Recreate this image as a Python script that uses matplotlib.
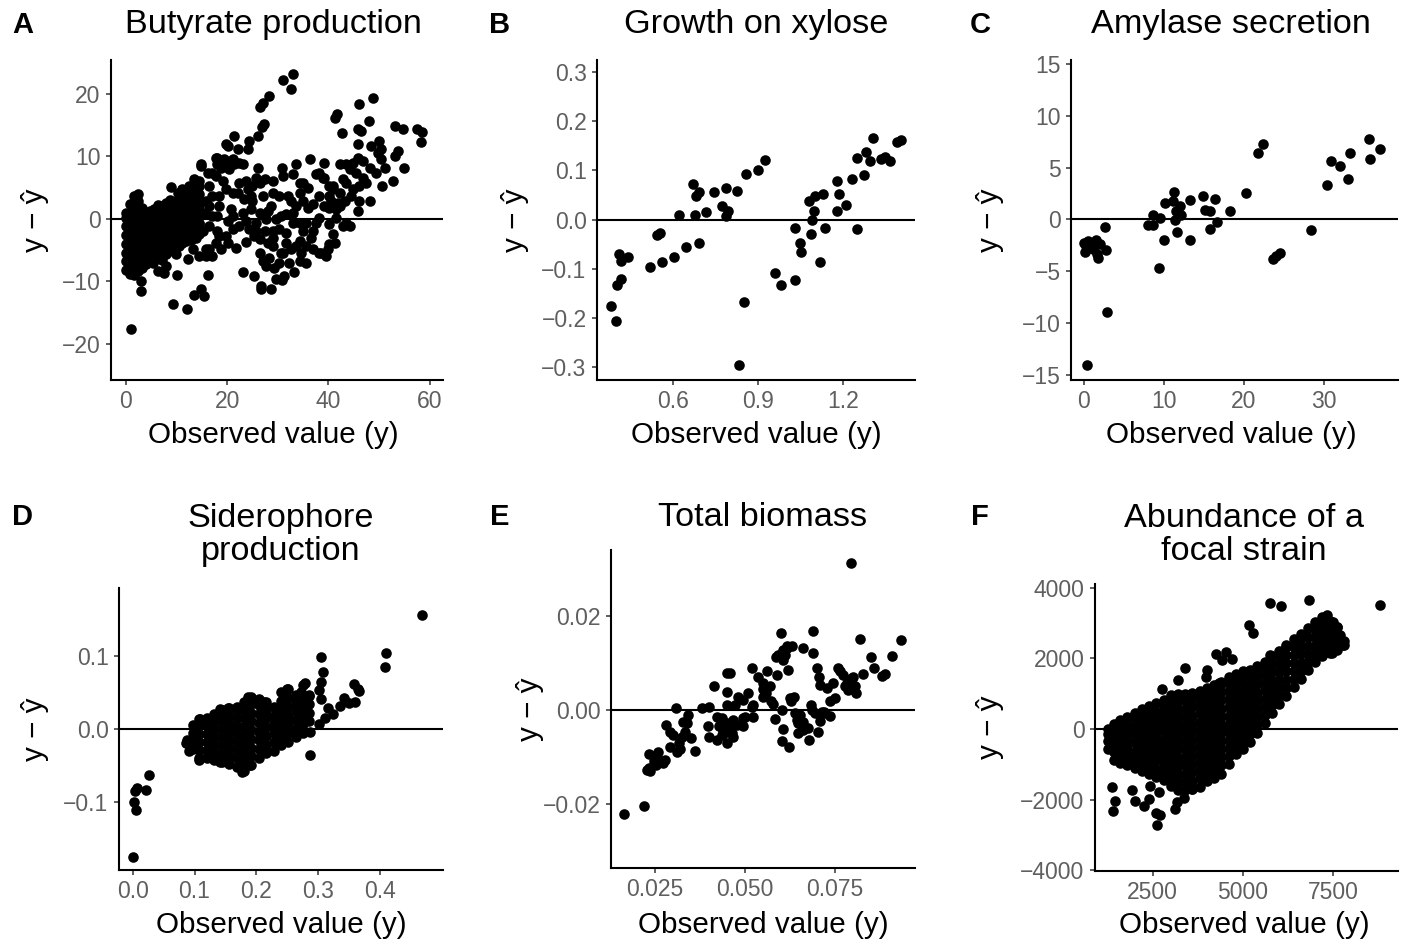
import matplotlib
matplotlib.use("Agg")
import matplotlib.pyplot as plt

plt.rcParams['font.family'] = ['Liberation Sans', 'DejaVu Sans']

W, H = 1403, 944

# ---- A: butyrate production ----
a_cols_x = [0.0, 0.8, 1.6, 2.4, 3.2, 4.0, 4.8, 5.6, 6.4, 7.2, 8.0, 8.8, 9.6,
            10.4, 11.2, 12.0, 12.8, 13.6, 14.4]
a_cols_y = [
    [-8.2, -6.8, -5.4, -4.0, -2.6, -1.2, 0.2, 1.0],
    [-8.8, -7.4, -6.0, -4.6, -3.2, -1.8, -0.4, 1.0, 2.4],
    [-9.0, -7.6, -6.2, -4.8, -3.4, -2.0, -0.6, 0.8, 2.2, 3.6],
    [-8.4, -7.0, -5.6, -4.2, -2.8, -1.4, 0.0, 1.4, 2.8, 4.0],
    [-7.8, -6.4, -5.0, -3.6, -2.2, -0.8, 0.6, 1.8],
    [-7.2, -5.8, -4.4, -3.0, -1.6, -0.2, 1.0],
    [-6.8, -5.4, -4.0, -2.6, -1.2, 0.2, 1.2],
    [-6.4, -5.0, -3.6, -2.2, -0.8, 0.6, 1.6],
    [-6.0, -4.6, -3.2, -1.8, -0.4, 1.0, 2.2],
    [-6.6, -5.0, -3.4, -2.0, -0.6, 0.8, 2.0],
    [-5.6, -4.2, -2.8, -1.4, 0.0, 1.4, 2.6],
    [-5.0, -3.6, -2.2, -0.8, 0.6, 2.0, 3.0],
    [-4.6, -3.0, -1.6, -0.2, 1.2, 2.6],
    [-4.2, -2.6, -1.2, 0.2, 1.6, 3.0, 4.2],
    [-3.8, -2.2, -0.8, 0.6, 2.0, 3.4],
    [-3.2, -1.8, -0.4, 1.0, 2.4, 3.8],
    [-3.4, -1.6, 0.0, 1.6, 3.2, 4.8],
    [-2.8, -1.2, 0.4, 2.0, 3.6, 5.4],
    [-2.4, -0.8, 0.8, 2.4, 4.0, 6.0],
]
a_pts = [
    (1.1, -17.6), (3.1, -10.0), (3.1, -11.6), (10.2, -9.0), (9.4, -13.7), (12.0, -14.5),
    (13.5, -12.2), (14.8, -11.2), (15.4, -12.4), (16.3, -9.0), (12.2, -6.4), (13.2, -4.9),
    (9.9, -5.7), (7.9, -7.5), (6.3, -8.3), (7.6, -8.6), (8.9, 5.1),
    (33.0, 23.2), (31.0, 22.2), (32.6, 20.7), (28.3, 19.7), (27.0, 18.5), (26.4, 17.9),
    (27.2, 15.2), (26.8, 14.7), (26.2, 13.3), (24.4, 12.4), (24.1, 11.2), (21.4, 13.3),
    (19.8, 12.0), (20.1, 11.6), (22.1, 11.2), (23.1, 8.7), (21.4, 8.7), (19.9, 8.3),
    (20.8, 9.2), (17.8, 9.7), (18.8, 8.1), (14.9, 8.5), (17.1, 7.3),
    (23.1, -8.5), (25.4, -9.1), (26.7, -10.7), (26.7, -11.3), (28.7, -11.3), (29.7, -9.7),
    (31.3, -9.1), (30.9, -9.8), (33.3, -8.5), (32.2, -7.0), (29.3, -7.8), (27.7, -7.5),
    (27.0, -6.8), (26.4, -5.4), (28.3, -6.2), (29.0, -4.4), (30.6, -5.4), (30.3, -7.0),
    (34.3, -6.8), (35.6, -7.0), (34.6, -5.4), (33.6, -4.4), (31.6, -3.8), (31.6, -2.2),
    (30.3, -1.7), (29.0, -2.0), (27.4, -2.0), (25.7, -2.0), (23.7, -3.7), (25.4, -2.8),
    (28.0, -3.8), (33.0, -0.6), (34.3, -0.6), (34.9, -2.0), (36.6, -3.0), (36.9, -2.0),
    (38.6, -5.5), (39.6, -6.0), (39.9, -4.9), (41.2, -3.8), (40.9, -2.5), (40.2, -0.9),
    (42.8, -1.2), (44.3, -1.2), (43.5, -0.6), (41.5, 0.2),
    (41.5, 1.5), (40.2, 1.8), (41.9, 2.6), (43.2, 2.8), (44.5, 3.6), (45.8, 1.2),
    (46.1, 2.8), (48.1, 2.8), (44.8, 4.7), (46.1, 5.2), (47.5, 5.7), (46.8, 6.5),
    (45.5, 7.3), (44.2, 7.9), (42.2, 8.7), (43.5, 8.7), (44.8, 8.9), (45.8, 9.7),
    (46.8, 9.2), (48.1, 8.1), (49.4, 7.3), (51.1, 8.1), (50.4, 9.5), (49.8, 10.5),
    (48.4, 11.6), (50.4, 11.1), (49.9, 12.5), (45.8, 11.9), (45.8, 14.4), (46.5, 14.0),
    (48.0, 15.6), (42.7, 13.8), (41.2, 16.1), (41.7, 16.7), (46.1, 18.3), (48.7, 19.3),
    (53.1, 14.9), (54.7, 14.4), (57.4, 14.4), (58.5, 13.9), (58.3, 12.3), (53.1, 10.0),
    (53.7, 10.8), (55.0, 8.1), (52.7, 6.0), (50.6, 5.3),
    (36.3, 9.5), (33.6, 8.7), (30.9, 8.1), (31.0, 6.8), (26.2, 8.1), (27.4, 6.3),
    (29.0, 6.0), (26.4, 5.7), (25.7, 6.5), (23.7, 6.0), (22.4, 5.7), (22.1, 4.1),
    (24.1, 4.7), (25.0, 2.8), (27.0, 3.6), (28.7, 2.0), (28.0, 1.2), (26.4, 1.0),
    (24.7, 1.5), (23.1, 1.0), (21.1, 0.4), (20.1, -0.4), (21.1, -1.7), (22.4, -1.2),
    (23.7, -0.4), (19.8, -2.8), (21.8, -4.6), (20.1, -3.8), (18.1, -2.0), (18.5, -2.8),
    (16.5, -1.2), (17.1, 0.4), (15.8, 1.0), (14.5, 1.5), (13.5, 2.6), (12.5, 3.6),
    (11.2, 3.3), (11.5, 2.0), (9.9, 1.8), (10.5, 0.4), (11.9, -0.1), (13.5, 0.2),
    (14.5, -0.6), (15.2, -2.0), (13.8, -3.0), (12.5, -2.8), (11.2, -1.7), (9.9, -1.2),
    (8.6, -0.9), (9.2, -2.5), (7.6, -3.8), (6.6, -2.8), (5.6, -4.4), (4.6, -5.4),
    (3.9, -7.0), (5.3, -7.0), (6.9, -6.2), (8.6, -5.2), (10.5, -4.4), (11.9, -3.6),
    (15.8, -4.9), (15.8, -6.0), (16.5, -4.9), (14.5, -6.0),
    (30.3, 3.6), (32.6, 2.8), (34.3, 4.1), (35.9, 4.9), (34.9, 5.7), (37.6, 7.1),
    (38.2, 7.3), (39.2, 6.5), (38.2, 3.6), (36.9, 2.3), (35.9, 1.8), (34.9, 2.8),
    (33.6, 2.0), (33.0, 1.0), (30.7, 0.4), (29.7, -0.1), (31.6, 0.7), (40.2, 5.2),
    (40.9, 4.7), (40.2, 3.6), (42.2, 4.1), (43.5, 5.7), (42.8, 6.3),
    (14.8, 8.7), (16.2, 7.3), (17.8, 6.8), (16.5, 5.2), (14.5, 5.2), (13.5, 6.3),
    (12.5, 5.2), (11.2, 4.7), (18.1, 9.7), (19.4, 9.5), (21.1, 9.5), (22.4, 8.9),
    (20.4, 7.9), (19.1, 6.0), (19.8, 4.7), (18.5, 3.6), (17.1, 3.6), (15.8, 2.8),
    (14.5, 3.1), (18.1, 8.7), (39.2, 8.9), (38.9, 6.5), (40.9, 5.2), (33.0, 7.1),
    (34.3, 5.7), (32.0, 3.6), (29.0, 4.1), (25.0, 5.2), (24.7, 3.6), (23.4, 3.1),
    (21.1, 4.1), (18.5, 2.0), (20.8, 1.5), (18.1, 0.4), (16.5, 2.0), (25.7, -0.6),
    (27.7, -0.1), (24.4, -1.7), (26.4, -3.3), (29.0, -3.0), (31.0, -5.4), (32.6, -4.9),
    (34.3, -3.6), (35.6, -4.4), (36.9, -4.9), (35.6, -0.6), (37.6, -0.6), (38.2, 0.2),
    (39.2, 2.0), (40.5, 2.8), (42.2, 2.0), (17.8, -3.8), (18.8, -4.9), (17.1, -6.0),
    (38.2, -5.4), (40.2, -4.1),
]

# ---- B: growth on xylose ----
b_x = [0.383, 0.398, 0.402, 0.418, 0.409, 0.418, 0.443, 0.519, 0.544, 0.553, 0.560,
       0.6035, 0.647, 0.692, 0.621, 0.677, 0.671, 0.680, 0.692, 0.715, 0.744, 0.771,
       0.785, 0.794, 0.785, 0.825, 0.8555, 0.899, 0.923, 0.831, 0.850, 0.959, 0.979,
       1.030, 1.0285, 1.048, 1.052, 1.087, 1.091, 1.098, 1.078, 1.100, 1.127, 1.119,
       1.137, 1.178, 1.184, 1.179, 1.2105, 1.230, 1.2485, 1.274, 1.247, 1.280, 1.293,
       1.305, 1.334, 1.346, 1.365, 1.390, 1.404]
b_y = [-0.176, -0.207, -0.134, -0.122, -0.0705, -0.085, -0.076, -0.096, -0.0325, -0.0285,
       -0.086, -0.0773, -0.0556, -0.0474, 0.0102, 0.0102, 0.073, 0.047, 0.0555, 0.0163,
       0.057, 0.027, 0.0644, 0.0183, 0.0081, 0.0583, 0.0935, 0.1016, 0.122, -0.296,
       -0.168, -0.108, -0.1335, -0.123, -0.0183, -0.048, -0.0657, -0.0305, 0.0, 0.017,
       0.0386, 0.0488, 0.0528, -0.086, -0.017, 0.0183, 0.0528, 0.078, 0.0298, 0.0833,
       -0.019, 0.090, 0.1254, 0.1376, 0.12, 0.167, 0.124, 0.1274, 0.1185, 0.158, 0.163]

# ---- C: amylase secretion ----
c_x = [0.42, 2.93, 2.68, 2.76, 0.0, 0.13, 0.5, 0.84, 1.55, 1.68, 1.8, 2.09, 1.18, 0.25,
       8.02, 8.61, 8.61, 9.53, 9.40, 10.03, 10.15, 11.24, 11.12, 11.4, 11.53, 12.03,
       12.16, 11.7, 13.28, 13.28, 14.87, 15.13, 15.79, 16.46, 15.79, 16.72, 18.3, 20.35,
       21.8, 22.43, 23.65, 24.06, 24.49, 28.37, 30.38, 30.92, 32.0, 33.0, 33.26, 35.64,
       35.8, 37.06]
c_y = [-14.04, -8.94, -0.70, -2.98, -2.27, -3.11, -2.05, -2.66, -1.95, -3.30, -3.71,
       -2.34, -2.85, -2.6, -0.51, -0.51, 0.38, 0.16, -4.67, -2.02, 1.61, 2.6, 1.73, -0.1,
       0.77, 1.25, 0.38, -1.25, 1.87, -1.95, 2.28, 0.93, 0.81, 1.96, -0.92, -0.25, 0.77,
       2.57, 6.38, 7.25, -3.78, -3.56, -3.23, -1.06, 3.31, 5.64, 5.19, 3.88, 6.44, 7.73,
       5.81, 6.83]

# ---- D: siderophore production ----
d_cols_x = [0.088, 0.098, 0.108, 0.120, 0.132, 0.144, 0.156, 0.168, 0.180, 0.192,
            0.204, 0.216, 0.228, 0.240, 0.252, 0.264, 0.276, 0.286]
d_cols_y = [
    [-0.020, -0.016],
    [-0.028, -0.017, -0.006, 0.005],
    [-0.040, -0.029, -0.018, -0.007, 0.004, 0.013],
    [-0.040, -0.029, -0.018, -0.007, 0.004, 0.014],
    [-0.043, -0.032, -0.021, -0.010, 0.001, 0.012, 0.020],
    [-0.046, -0.035, -0.024, -0.013, -0.002, 0.009, 0.020, 0.026],
    [-0.048, -0.037, -0.026, -0.015, -0.004, 0.007, 0.018, 0.028],
    [-0.052, -0.040, -0.029, -0.018, -0.007, 0.004, 0.015, 0.026, 0.030],
    [-0.058, -0.046, -0.034, -0.022, -0.010, 0.002, 0.014, 0.026, 0.036],
    [-0.050, -0.038, -0.026, -0.014, -0.002, 0.010, 0.022, 0.034, 0.044],
    [-0.040, -0.028, -0.016, -0.004, 0.008, 0.020, 0.032, 0.040],
    [-0.034, -0.022, -0.010, 0.002, 0.014, 0.026, 0.036],
    [-0.030, -0.018, -0.006, 0.006, 0.018, 0.030],
    [-0.022, -0.010, 0.002, 0.014, 0.026, 0.038, 0.050],
    [-0.018, -0.006, 0.006, 0.018, 0.030, 0.042, 0.054],
    [-0.012, 0.000, 0.012, 0.024, 0.036, 0.046],
    [-0.006, 0.006, 0.018, 0.030, 0.042, 0.060],
    [0.010, 0.022, 0.034, 0.046],
]
d_pts = [
    (0.0, -0.176), (0.0026, -0.101), (0.0053, -0.112), (0.0042, -0.085), (0.0065, -0.0817),
    (0.0215, -0.084), (0.0259, -0.063), (0.468, 0.156), (0.41, 0.104), (0.408, 0.0845),
    (0.304, 0.098), (0.308, 0.078), (0.305, 0.064), (0.302, 0.053), (0.304, 0.040),
    (0.3155, 0.029), (0.3117, 0.014), (0.3246, 0.020), (0.3015, 0.0064), (0.287, -0.0045),
    (0.287, -0.036), (0.3355, 0.0315), (0.342, 0.0416), (0.3505, 0.0356), (0.36, 0.036),
    (0.3586, 0.061), (0.364, 0.055), (0.3667, 0.051), (0.278, 0.062), (0.285, 0.045),
    (0.2497, 0.054), (0.272, 0.050), (0.176, -0.059), (0.189, -0.050), (0.142, -0.0456),
    (0.107, -0.043), (0.086, -0.019), (0.0916, -0.030), (0.12, -0.039), (0.109, 0.0129),
    (0.12, 0.0129), (0.141, 0.0266), (0.1547, 0.028), (0.187, 0.044), (0.2125, 0.037),
    (0.249, 0.0164), (0.265, 0.030),
]

# ---- E: total biomass ----
e_pts = [
    (0.0165, -0.0221), (0.0220, -0.0204), (0.0229, -0.0128), (0.0236, -0.0129),
    (0.0234, -0.0124), (0.0234, -0.0094), (0.0247, -0.0108), (0.0256, -0.0103),
    (0.0259, -0.0089), (0.0271, -0.0113), (0.0278, -0.0106), (0.0253, -0.0117),
    (0.0282, -0.0031), (0.0292, -0.0046), (0.0301, -0.0053), (0.0292, -0.0078),
    (0.0310, -0.0089), (0.0319, -0.0082), (0.0324, -0.0057), (0.0333, -0.0046),
    (0.0338, -0.0028), (0.0329, -0.0025), (0.0343, -0.0011), (0.0349, -0.0060),
    (0.0308, 0.0004), (0.0361, -0.0087), (0.0318, -0.0071),
    (0.0380, 0.0004), (0.0401, 0.0007), (0.0398, -0.0035), (0.0401, -0.0058),
    (0.0421, -0.0064), (0.0421, -0.0016), (0.0414, 0.0050), (0.0449, 0.0039),
    (0.0449, 0.0078), (0.0458, 0.0079), (0.0449, -0.0070), (0.0440, -0.0043),
    (0.0449, -0.0028), (0.0458, -0.0035), (0.0468, -0.0021), (0.0472, 0.0011),
    (0.0449, 0.0011), (0.0463, -0.0050), (0.0435, -0.0018), (0.0429, -0.0034),
    (0.0477, -0.0032), (0.0495, -0.0034), (0.0500, -0.0014), (0.0495, 0.0021),
    (0.0509, 0.0036), (0.0519, 0.0089), (0.0521, 0.0011), (0.0521, -0.0014),
    (0.0537, 0.0071), (0.0549, 0.0057), (0.0549, 0.0028), (0.0560, 0.0082),
    (0.0549, 0.0044), (0.0569, 0.0050), (0.0572, 0.0018), (0.0577, 0.0013),
    (0.0583, -0.0020), (0.0588, 0.0074), (0.0586, 0.0113), (0.0599, 0.0163),
    (0.0606, 0.0128), (0.0611, 0.0117), (0.0618, 0.0131), (0.0620, 0.0085),
    (0.0630, 0.0135), (0.0606, 0.0106), (0.0604, 0.0000), (0.0606, -0.0041),
    (0.0603, -0.0067), (0.0623, -0.0079), (0.0628, 0.0018), (0.0636, 0.0028),
    (0.0639, -0.0007), (0.0644, -0.0021), (0.0648, -0.0028), (0.0653, -0.0011),
    (0.0657, -0.0033), (0.0662, -0.0025), (0.0648, -0.0048), (0.0660, 0.0131),
    (0.0676, -0.0039), (0.0679, -0.0064), (0.0682, 0.0011), (0.0690, 0.0167),
    (0.0690, 0.0121), (0.0699, 0.0089), (0.0685, 0.0000), (0.0694, -0.0007),
    (0.0704, -0.0046), (0.0708, -0.0023), (0.0706, 0.0071), (0.0708, 0.0053),
    (0.0718, -0.0004), (0.0722, -0.0007), (0.0727, 0.0046), (0.0736, -0.0013),
    (0.0745, 0.0058), (0.0750, 0.0026), (0.0759, 0.0089), (0.0764, 0.0082),
    (0.0773, 0.0074), (0.0778, 0.0050), (0.0787, 0.0043), (0.0794, 0.0312),
    (0.0796, 0.0067), (0.0801, 0.0071), (0.0808, 0.0037), (0.0819, 0.0150),
    (0.0829, 0.0077), (0.0849, 0.0112), (0.0858, 0.0089), (0.0880, 0.0072),
    (0.0889, 0.0077), (0.0909, 0.0115), (0.0933, 0.0149), (0.0806, 0.0050),
    (0.0782, 0.0057), (0.0736, 0.0018), (0.0713, -0.0004), (0.0662, -0.0043),
    (0.0625, 0.0025), (0.0616, 0.0135), (0.0593, 0.0117), (0.0558, 0.0035),
    (0.0481, 0.0028), (0.0519, 0.0007), (0.0495, -0.0018), (0.0468, -0.0057),
    (0.0435, -0.0053), (0.0449, -0.0046),
]

# ---- F: abundance of a focal strain ----
f_cols_x = [1250, 1420, 1600, 1800, 2000, 2200, 2400, 2600, 2800, 3000, 3200, 3400,
            3600, 3800, 4000, 4200, 4400, 4600, 4800, 5000, 5200, 5400, 5600, 5800,
            6000, 6200, 6400, 6600, 6800, 7000, 7200, 7400, 7600, 7800]
f_cols_y = [
    [-560, -350, -150, 10],
    [-870, -650, -430, -210, 0, 150],
    [-960, -740, -520, -300, -80, 140, 250],
    [-1030, -800, -570, -340, -110, 120, 350],
    [-1100, -870, -640, -410, -180, 50, 280, 460],
    [-1180, -950, -720, -490, -260, -30, 200, 430, 560],
    [-1260, -1030, -800, -570, -340, -110, 120, 350, 580, 650],
    [-1350, -1120, -890, -660, -430, -200, 30, 260, 490, 730],
    [-1450, -1220, -990, -760, -530, -300, -70, 160, 390, 620, 820],
    [-1600, -1370, -1140, -910, -680, -450, -220, 10, 240, 470, 700, 950],
    [-1730, -1500, -1270, -1040, -810, -580, -350, -120, 110, 340, 570, 800, 980],
    [-1720, -1490, -1260, -1030, -800, -570, -340, -110, 120, 350, 580, 810, 1000],
    [-1690, -1460, -1230, -1000, -770, -540, -310, -80, 150, 380, 610, 840, 1030],
    [-1630, -1400, -1170, -940, -710, -480, -250, -20, 210, 440, 670, 900, 1080],
    [-1480, -1250, -1020, -790, -560, -330, -100, 130, 360, 590, 820, 1050, 1150],
    [-1380, -1150, -920, -690, -460, -230, 0, 230, 460, 690, 920, 1150, 1240],
    [-1260, -1030, -800, -570, -340, -110, 120, 350, 580, 810, 1040, 1270, 1340],
    [-1000, -770, -540, -310, -80, 150, 380, 610, 840, 1070, 1300, 1460],
    [-700, -470, -240, -10, 220, 450, 680, 910, 1140, 1370, 1560],
    [-560, -330, -100, 130, 360, 590, 820, 1050, 1280, 1510, 1630],
    [-380, -150, 80, 310, 540, 770, 1000, 1230, 1460, 1680],
    [-120, 110, 340, 570, 800, 1030, 1260, 1490, 1720, 1780],
    [170, 400, 630, 860, 1090, 1320, 1550, 1780, 1900],
    [450, 680, 910, 1140, 1370, 1600, 1830, 2060],
    [700, 930, 1160, 1390, 1620, 1850, 2080, 2220],
    [940, 1170, 1400, 1630, 1860, 2090, 2320, 2380],
    [1180, 1410, 1640, 1870, 2100, 2330, 2540],
    [1420, 1650, 1880, 2110, 2340, 2570, 2700],
    [1670, 1900, 2130, 2360, 2590, 2860],
    [1900, 2130, 2360, 2590, 2820, 3020],
    [2060, 2290, 2520, 2750, 2980, 3180],
    [2140, 2370, 2600, 2830, 3060],
    [2250, 2480, 2710, 2900],
    [2380, 2480],
]
f_pts = [
    (1374, -1651), (1467, -2038), (1411, -2311), (1928, -1726), (2020, -2028),
    (2260, -2179), (2408, -1971), (2426, -1613), (2592, -2387), (2703, -2434),
    (2629, -2717), (2685, -1773), (3127, -2254), (3164, -2056), (3367, -1943),
    (3589, -1698), (5748, 3575), (6043, 3490), (6818, 3651), (8793, 3519),
    (5167, 2943), (5268, 2726), (4244, 2122), (4530, 2188), (4687, 1971),
    (4410, 1953), (3395, 1717), (3210, 1387), (3995, 1670), (3976, 1481),
    (2758, 1123), (5748, 2094), (5167, 1575), (4336, 1311), (7501, 3037),
    (7316, 3226), (7593, 2896), (7686, 2660), (7778, 2377), (7455, 2141),
    (7224, 2283), (7040, 2471),
]


def expand(cols_x, cols_y, pts):
    xs, ys = [], []
    for x, col in zip(cols_x, cols_y):
        for y in col:
            xs.append(x)
            ys.append(y)
    for x, y in pts:
        xs.append(x)
        ys.append(y)
    return xs, ys


def panel(fig, box, xs, ys, xlim, ylim, xticks, xlabels, yticks, ylabels):
    left, top, right, bottom = box
    ax = fig.add_axes([left / W, 1 - bottom / H, (right - left) / W, (bottom - top) / H])
    ax.axhline(0, color='black', lw=1.5, zorder=1)
    ax.scatter(xs, ys, s=58, color='black', linewidths=0, zorder=2, clip_on=False)
    ax.set_xlim(*xlim)
    ax.set_ylim(*ylim)
    ax.set_xticks(xticks)
    ax.set_xticklabels(xlabels)
    ax.set_yticks(yticks)
    ax.set_yticklabels(ylabels)
    for s in ['top', 'right']:
        ax.spines[s].set_visible(False)
    for s in ['left', 'bottom']:
        ax.spines[s].set_linewidth(1.5)
        ax.spines[s].set_color('black')
    ax.tick_params(length=3.5, width=1.1, color='#333333', labelcolor='#5f5f5f',
                   labelsize=16.5, pad=4)
    return ax


def m(v):
    return v.replace('-', '\u2212')


fig = plt.figure(figsize=(W / 100, H / 100), dpi=100)

ax_x, ax_y = expand(a_cols_x, a_cols_y, a_pts)
panel(fig, (111, 60, 443, 380), ax_x, ax_y, (-2.9, 62.6), (-25.8, 25.4),
      [0, 20, 40, 60], ['0', '20', '40', '60'],
      [-20, -10, 0, 10, 20], [m(t) for t in ['-20', '-10', '0', '10', '20']])

panel(fig, (597, 60, 915, 380), b_x, b_y, (0.332, 1.453), (-0.327, 0.325),
      [0.6, 0.9, 1.2], ['0.6', '0.9', '1.2'],
      [-0.3, -0.2, -0.1, 0.0, 0.1, 0.2, 0.3],
      [m(t) for t in ['-0.3', '-0.2', '-0.1', '0.0', '0.1', '0.2', '0.3']])

panel(fig, (1071, 60, 1398, 380), c_x, c_y, (-1.58, 39.3), (-15.48, 15.37),
      [0, 10, 20, 30], ['0', '10', '20', '30'],
      [-15, -10, -5, 0, 5, 10, 15],
      [m(t) for t in ['-15', '-10', '-5', '0', '5', '10', '15']])

dx, dy = expand(d_cols_x, d_cols_y, d_pts)
panel(fig, (119, 588, 443, 870), dx, dy, (-0.0222, 0.502), (-0.1936, 0.1927),
      [0.0, 0.1, 0.2, 0.3, 0.4], ['0.0', '0.1', '0.2', '0.3', '0.4'],
      [-0.1, 0.0, 0.1], [m(t) for t in ['-0.1', '0.0', '0.1']])

ex, ey = expand([], [], e_pts)
panel(fig, (611, 550, 915, 868), ex, ey, (0.0128, 0.0972), (-0.0336, 0.034),
      [0.025, 0.050, 0.075], ['0.025', '0.050', '0.075'],
      [-0.02, 0.0, 0.02], [m(t) for t in ['-0.02', '0.00', '0.02']])

fx, fy = expand(f_cols_x, f_cols_y, f_pts)
panel(fig, (1095, 584, 1398, 871), fx, fy, (903, 9290), (-4019, 4104),
      [2500, 5000, 7500], ['2500', '5000', '7500'],
      [-4000, -2000, 0, 2000, 4000],
      [m(t) for t in ['-4000', '-2000', '0', '2000', '4000']])

titles = [
    ('A', 23, 25, 'Butyrate production', 273, 25),
    ('B', 500, 25, 'Growth on xylose', 756, 25),
    ('C', 980, 25, 'Amylase secretion', 1231, 25),
    ('D', 23, 517, 'Siderophore\nproduction', 281, 535),
    ('E', 500, 517, 'Total biomass', 763, 517),
    ('F', 980, 517, 'Abundance of a\nfocal strain', 1244, 535),
]
for letter, lx, ly, title, tx, ty in titles:
    fig.text(lx / W, 1 - ly / H, letter, fontsize=21, fontweight='bold',
             ha='center', va='center')
    fig.text(tx / W, 1 - ty / H, title, fontsize=24.7, ha='center', va='center',
             linespacing=1.12)

xlab = [(273, 435), (756, 435), (1231, 435), (281, 925), (763, 925), (1244, 925)]
for x, y in xlab:
    fig.text(x / W, 1 - y / H, 'Observed value (y)', fontsize=21.3,
             ha='center', va='center')

ylab = [(35, 220), (515, 220), (990, 220), (35, 729), (530, 709), (990, 727)]
for x, y in ylab:
    fig.text(x / W, 1 - y / H, 'y \u2212 \u0177', fontsize=21.3, rotation=90,
             ha='center', va='center')

fig.savefig('out.png', dpi=100)
